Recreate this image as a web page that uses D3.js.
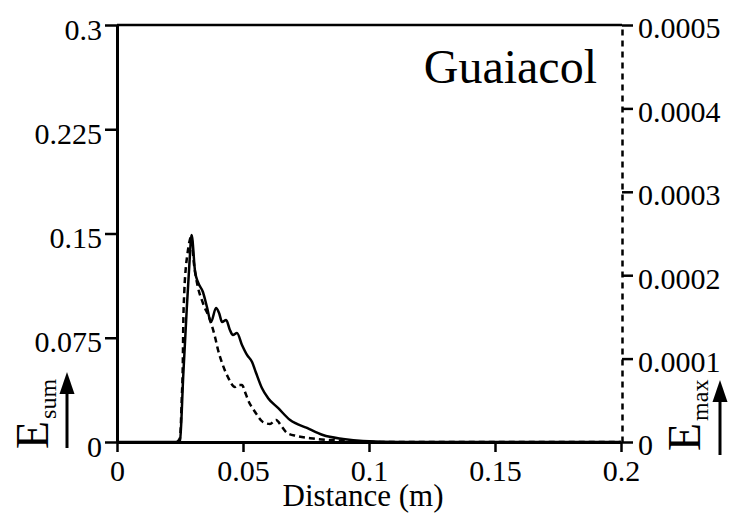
<!DOCTYPE html>
<html>
<head>
<meta charset="utf-8">
<script src="https://cdn.jsdelivr.net/npm/d3@7"></script>
<style>
  body { margin: 0; background: #fff; }
  svg text { font-family: 'Liberation Serif', 'Times New Roman', Times, serif; fill: #000; }
</style>
</head>
<body>
<svg id="svg" width="747" height="520" font-family="Liberation Serif"></svg>
<script>
// solid curve, left axis (E sum)
var sumDistance = [0, 0.0242, 0.0250, 0.0263, 0.0277, 0.0287, 0.0296, 0.0310, 0.0321, 0.0341,
  0.0357, 0.0373, 0.0393, 0.0405, 0.0417, 0.0433, 0.0448, 0.0460, 0.0476, 0.0496, 0.0516,
  0.0536, 0.0552, 0.0575, 0.0599, 0.0639, 0.0687, 0.0754, 0.0817, 0.0897, 0.0976, 0.1123, 0.2];
var sumValues = [0, 0, 0.0014, 0.0482, 0.0964, 0.1273, 0.1489, 0.1223, 0.1151, 0.1079,
  0.0971, 0.0863, 0.0964, 0.0928, 0.0863, 0.0878, 0.0806, 0.0770, 0.0784, 0.0698, 0.0626,
  0.0576, 0.0496, 0.0388, 0.0317, 0.0245, 0.0158, 0.0101, 0.0050, 0.0022, 0.0007, 0, 0];

// dashed curve, right axis (E max)
var maxDistance = [0.0238, 0.0250, 0.0257, 0.0261, 0.0263, 0.0267, 0.0273, 0.0279, 0.0287, 0.0294,
  0.0306, 0.0321, 0.0341, 0.0369, 0.0389, 0.0401, 0.0417, 0.0440, 0.0468, 0.0480, 0.0496,
  0.0508, 0.0520, 0.0548, 0.0579, 0.0607, 0.0631, 0.0655, 0.0675, 0.0714, 0.0778, 0.0873, 0.1004, 0.2];
var maxValues = [0, 0.0000048, 0.0000528, 0.0000923, 0.0001403, 0.0001799, 0.0002086, 0.0002242, 0.0002398, 0.0002458,
  0.0002122, 0.0001859, 0.0001667, 0.0001463, 0.0001259, 0.0001103, 0.0000947, 0.0000779, 0.0000660, 0.0000683, 0.0000683,
  0.0000600, 0.0000504, 0.0000360, 0.0000240, 0.0000216, 0.0000264, 0.0000180, 0.0000108, 0.0000072, 0.0000042, 0.0000018, 0, 0];

var xTicks = [0, 0.05, 0.1, 0.15, 0.2];
var leftTicks = [0, 0.075, 0.15, 0.225, 0.3];
var rightTicks = [0, 0.0001, 0.0002, 0.0003, 0.0004, 0.0005];

var serif = "Liberation Serif";
var svg = d3.select("#svg");

var scaleX = d3.scaleLinear().domain([0, 0.2]).range([117, 621]);
var scaleSum = d3.scaleLinear().domain([0, 0.3]).range([442, 25]);
var scaleMax = d3.scaleLinear().domain([0, 0.0005]).range([442, 25]);

function styleAxis(g) {
  g.attr("font-family", serif).attr("font-size", 30);
  g.selectAll("path.domain").attr("stroke", "#000").attr("stroke-width", 3);
  g.selectAll(".tick line").attr("stroke", "#000").attr("stroke-width", 2.5);
  g.selectAll(".tick text")
    .attr("font-family", serif)
    .attr("font-size", 30)
    .attr("fill", "#000");
}

// top border
svg.append("line")
  .attr("x1", scaleX(0)).attr("x2", 622)
  .attr("y1", scaleSum(0.3)).attr("y2", scaleSum(0.3))
  .attr("stroke", "#000").attr("stroke-width", 2.5);

var leftAxis = svg.append("g")
  .attr("transform", "translate(" + scaleX(0) + ",0)")
  .call(d3.axisLeft(scaleSum).tickValues(leftTicks).tickSize(12).tickSizeOuter(0)
    .tickPadding(3).tickFormat(function(d) { return String(d); }));
styleAxis(leftAxis);
leftAxis.selectAll(".tick text").attr("dy", "0.47em");

var rightAxis = svg.append("g")
  .attr("transform", "translate(622,0)")
  .call(d3.axisRight(scaleMax).tickValues(rightTicks).tickSize(11).tickSizeOuter(0)
    .tickPadding(5).tickFormat(function(d) { return String(d); }));
styleAxis(rightAxis);
rightAxis.select("path.domain").attr("stroke-dasharray", "6,5").attr("stroke-width", 2.5);
rightAxis.selectAll(".tick text").attr("dy", "0.43em");

var bottomAxis = svg.append("g")
  .attr("transform", "translate(0," + scaleSum(0) + ")")
  .call(d3.axisBottom(scaleX).tickValues(xTicks).tickSize(10).tickSizeOuter(0)
    .tickPadding(8).tickFormat(function(d) { return String(d); }));
styleAxis(bottomAxis);

// curves
var sumLine = d3.line()
  .x(function(d, i) { return scaleX(sumDistance[i]); })
  .y(function(d) { return scaleSum(d); })
  .curve(d3.curveMonotoneX);

var maxLine = d3.line()
  .x(function(d, i) { return scaleX(maxDistance[i]); })
  .y(function(d) { return scaleMax(d); })
  .curve(d3.curveMonotoneX);

svg.append("path")
  .attr("d", maxLine(maxValues))
  .attr("fill", "none")
  .attr("stroke", "#000")
  .attr("stroke-width", 2.5)
  .attr("stroke-dasharray", "6,4");

svg.append("path")
  .attr("d", sumLine(sumValues))
  .attr("fill", "none")
  .attr("stroke", "#000")
  .attr("stroke-width", 2.5);

// title and axis labels
svg.append("text")
  .attr("x", 597).attr("y", 83)
  .attr("text-anchor", "end")
  .attr("font-family", serif)
  .attr("font-size", 48)
  .text("Guaiacol");

svg.append("text")
  .attr("x", 363).attr("y", 506)
  .attr("text-anchor", "middle")
  .attr("font-family", serif)
  .attr("font-size", 31)
  .text("Distance (m)");

function sideLabel(x, y, main, sub) {
  var t = svg.append("text")
    .attr("transform", "translate(" + x + "," + y + ") rotate(-90)")
    .attr("font-family", serif)
    .attr("font-size", 46);
  t.append("tspan").text(main);
  t.append("tspan").attr("font-size", 24).attr("dy", 8).attr("dx", 2).text(sub);
}

function arrow(x, y1, y2) {
  svg.append("line")
    .attr("x1", x).attr("x2", x)
    .attr("y1", y1).attr("y2", y2 + 18)
    .attr("stroke", "#000").attr("stroke-width", 3);
  svg.append("path")
    .attr("d", "M" + x + "," + y2 + "L" + (x - 7.5) + "," + (y2 + 22) + "L" + (x + 7.5) + "," + (y2 + 22) + "Z")
    .attr("fill", "#000");
}

sideLabel(48, 449, "E", "sum");
arrow(67, 448, 372);

sideLabel(700, 451, "E", "max");
arrow(720, 455, 380);
</script>
</body>
</html>
